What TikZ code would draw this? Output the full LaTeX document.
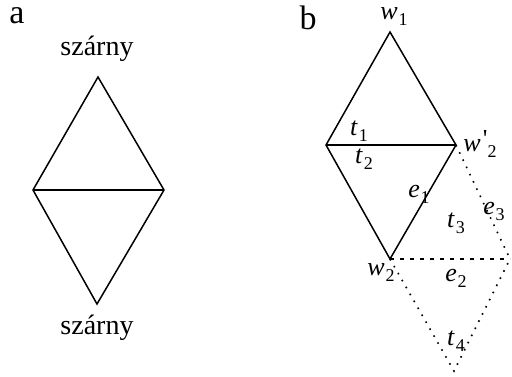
\documentclass[tikz,border=0pt]{standalone}
\usepackage{fontspec}
\setmainfont{Liberation Serif}
\newcommand{\lbl}[2]{\textit{#1}\kern0.03em\raisebox{-0.5ex}{\fontsize{9}{9}\selectfont #2}}
\begin{document}
\begin{tikzpicture}[x=0.5pt,y=-0.5pt,
  edge/.style={line width=0.75pt},
  dots/.style={line width=0.8pt,dash pattern=on 0.8pt off 3.2pt},
  dashes/.style={line width=0.8pt,dash pattern=on 2pt off 3pt},
  txt/.style={font=\fontsize{14}{16}\selectfont, inner sep=0pt},
  mtxt/.style={font=\fontsize{13}{15}\selectfont, inner sep=0pt},
  big/.style={font=\fontsize{17}{19}\selectfont, inner sep=0pt}]
\useasboundingbox (0,0) rectangle (512,376);
% panel a
\node[big] (la) at (17,16) {a};
\coordinate (at) at (98,77);
\coordinate (al) at (33,190);
\coordinate (ar) at (164,190);
\coordinate (ab) at (97,304);
\draw[edge] (at) -- (ar) -- (ab) -- (al) -- cycle;
\draw[edge] (al) -- (ar);
\node[txt] (sz1) at (97,49) {szárny};
\node[txt] (sz2) at (97,328) {szárny};
% panel b
\node[big] (lb) at (308,18) {b};
\coordinate (w1) at (390,32);
\coordinate (bl) at (326,145);
\coordinate (w2p) at (456,145);
\coordinate (w2) at (390,259);
\coordinate (br) at (510,259);
\coordinate (bb) at (454,371);
\draw[edge] (w1) -- (w2p) -- (w2) -- (bl) -- cycle;
\draw[edge] (bl) -- (w2p);
\draw[dots] (w2p) -- (br);
\draw[dashes] (w2) -- (br);
\draw[dots] (w2) -- (bb) -- (br);
\node[mtxt] (lw1) at (394,17) {\lbl{w}{1}};
\node[mtxt] (lt1) at (359,131) {\lbl{t}{1}};
\node[mtxt] (lt2) at (364,159) {\lbl{t}{2}};
\node[mtxt] (lw2p) at (480,144) {\textit{w}\kern0.08em\raisebox{0.3ex}{\textquotesingle}\raisebox{-0.5ex}{\fontsize{9}{9}\selectfont 2}};
\node[mtxt] (le1) at (419,194) {\lbl{e}{1}};
\node[mtxt] (lt3) at (456,223) {\lbl{t}{3}};
\node[mtxt] (le3) at (494,211) {\lbl{e}{3}};
\node[mtxt] (lw2) at (381,273) {\lbl{w}{2}};
\node[mtxt] (le2) at (456,278) {\lbl{e}{2}};
\node[mtxt] (lt4) at (456,341) {\lbl{t}{4}};
\end{tikzpicture}
\end{document}
